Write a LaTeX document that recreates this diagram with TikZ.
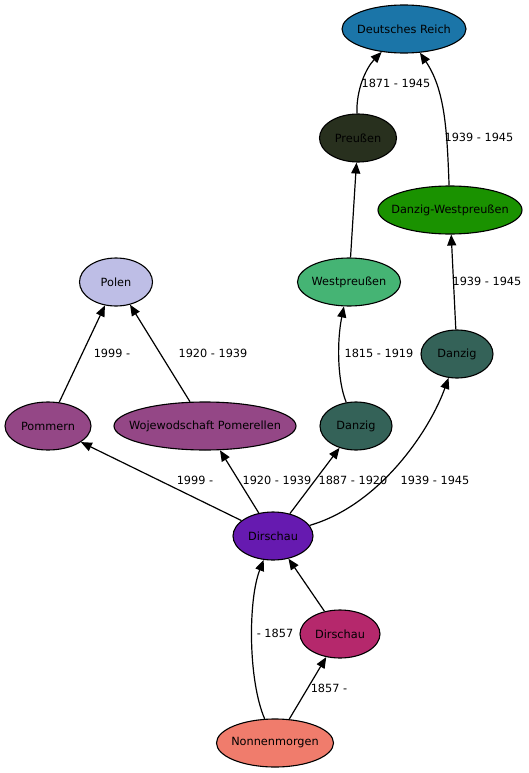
\documentclass[tikz,border=0pt]{standalone}
\usepackage{fontspec}
\setmainfont{DejaVu Sans}
\usetikzlibrary{shapes.geometric,arrows.meta}
\definecolor{cDR}{RGB}{27,117,168}
\definecolor{cPR}{RGB}{40,48,30}
\definecolor{cDW}{RGB}{26,146,0}
\definecolor{cWP}{RGB}{69,180,116}
\definecolor{cDZ}{RGB}{52,98,88}
\definecolor{cPL}{RGB}{190,190,230}
\definecolor{cPM}{RGB}{148,71,134}
\definecolor{cD0}{RGB}{102,26,176}
\definecolor{cD1}{RGB}{181,40,108}
\definecolor{cNM}{RGB}{240,124,108}
\tikzset{
  gnode/.style={ellipse, draw=black, line width=1.1pt, inner sep=0pt, minimum height=48pt,
    label={[inner sep=0pt, font=\fontsize{11.3}{13}\selectfont]center:#1}},
  elabel/.style={inner sep=0pt, font=\fontsize{11.3}{13}\selectfont},
  edge/.style={line width=1.2pt, -{Triangle[length=11pt,width=9pt]}},
}
\begin{document}
\begin{tikzpicture}[x=1pt,y=-1pt]
\useasboundingbox (0,0) rectangle (528,773);
% nodes
\node[gnode={Deutsches Reich}, fill=cDR, minimum width=124pt] (dr) at (404,29) {};
\node[gnode={Preußen}, fill=cPR, minimum width=77pt] (pr) at (358,138) {};
\node[gnode={Danzig-Westpreußen}, fill=cDW, minimum width=144pt] (dw) at (450,210) {};
\node[gnode={Westpreußen}, fill=cWP, minimum width=103pt] (wp) at (349,282) {};
\node[gnode={Danzig}, fill=cDZ, minimum width=72pt] (dz2) at (457,354) {};
\node[gnode={Polen}, fill=cPL, minimum width=73pt] (pl) at (116,282) {};
\node[gnode={Pommern}, fill=cPM, minimum width=86pt] (pm) at (48,426) {};
\node[gnode={Wojewodschaft Pomerellen}, fill=cPM, minimum width=182pt] (wj) at (205,426) {};
\node[gnode={Danzig}, fill=cDZ, minimum width=72pt] (dz1) at (356,426) {};
\node[gnode={Dirschau}, fill=cD0, minimum width=80pt] (d0) at (273,536) {};
\node[gnode={Dirschau}, fill=cD1, minimum width=80pt] (d1) at (340,634) {};
\node[gnode={Nonnenmorgen}, fill=cNM, minimum width=117pt] (nm) at (275,743) {};
% edges
\draw[edge] (pr) .. controls (356,90) and (366,68) .. (dr);
\draw[edge] (dw) .. controls (447,130) and (445,90) .. (dr);
\draw[edge] (wp) -- (pr);
\draw[edge] (dz2) -- (dw);
\draw[edge] (pm) -- (pl);
\draw[edge] (wj) -- (pl);
\draw[edge] (d0) -- (pm);
\draw[edge] (d0) -- (wj);
\draw[edge] (d0) -- (dz1);
\draw[edge] (dz1) .. controls (337,380) and (337,340) .. (wp);
\draw[edge] (d0) .. controls (380,505) and (430,430) .. (dz2);
\draw[edge] (d1) -- (d0);
\draw[edge] (nm) .. controls (248,680) and (248,600) .. (d0);
\draw[edge] (nm) -- (d1);
% edge labels
\node[elabel] (l1) at (396,83) {1871 - 1945};
\node[elabel] (l2) at (479,137) {1939 - 1945};
\node[elabel] (l3) at (487,281) {1939 - 1945};
\node[elabel] (l4) at (112,353) {1999 -};
\node[elabel] (l5) at (213,353) {1920 - 1939};
\node[elabel] (l6) at (379,353) {1815 - 1919};
\node[elabel] (l7) at (195,480) {1999 -};
\node[elabel] (l8) at (277,480) {1920 - 1939};
\node[elabel] (l9) at (353,480) {1887 - 1920};
\node[elabel] (l10) at (435,480) {1939 - 1945};
\node[elabel] (l11) at (275,633) {- 1857};
\node[elabel] (l12) at (329,688) {1857 -};
\end{tikzpicture}
\end{document}
